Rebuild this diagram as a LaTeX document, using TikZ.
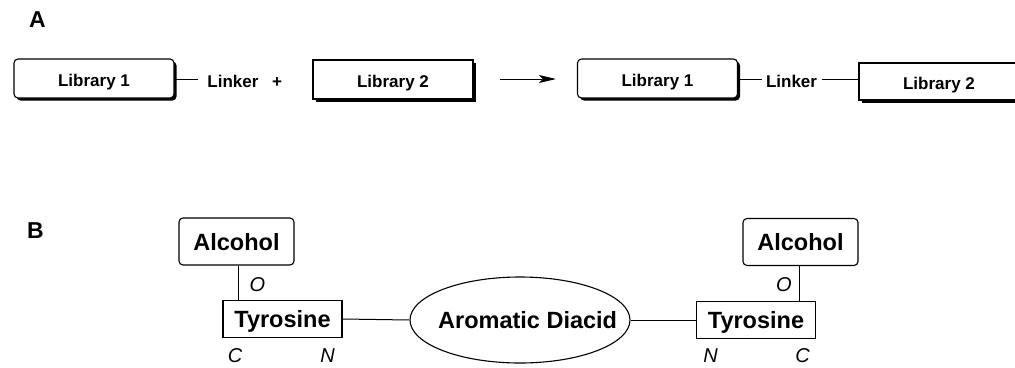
\documentclass[tikz,border=0pt]{standalone}
\usepackage{fontspec}
\setmainfont{Liberation Sans}
\usetikzlibrary{shapes.geometric,shadows,arrows.meta}
\begin{document}
\begin{tikzpicture}[x=1pt,y=-1pt,
  lib/.style={draw, line width=1.1pt, fill=white, minimum width=160pt, minimum height=39pt,
    inner sep=0pt, text height=16pt, text depth=0pt, font=\fontsize{17}{19}\selectfont\bfseries,
    drop shadow={shadow xshift=2.5pt, shadow yshift=-2.5pt, fill=black, opacity=1}},
  libr/.style={lib, rounded corners=4pt},
  atxt/.style={font=\fontsize{17}{19}\selectfont\bfseries, inner sep=0pt, anchor=base},
  btxt/.style={font=\fontsize{23.5}{26}\selectfont\bfseries, inner sep=0pt},
  alc/.style={draw, line width=1.1pt, rounded corners=4pt, minimum width=115pt, minimum height=47pt,
    inner sep=0pt, text height=17pt, text depth=0pt, font=\fontsize{23.5}{26}\selectfont\bfseries},
  tyr/.style={draw, line width=1.5pt, minimum width=119pt, minimum height=37pt,
    inner sep=0pt, text height=17pt, text depth=0pt, font=\fontsize{23.5}{26}\selectfont\bfseries},
  ell/.style={draw, line width=1.1pt, ellipse, minimum width=220pt, minimum height=86pt, inner sep=0pt},
  atom/.style={font=\fontsize{20}{22}\selectfont\itshape, inner sep=0pt},
  panel/.style={font=\fontsize{23}{25}\selectfont\bfseries, inner sep=0pt, anchor=base west},
  conn/.style={line width=1pt}
]
\useasboundingbox (0,0) rectangle (1015,367);
\clip (0,0) rectangle (1015,367);

% Panel A
\node[panel] (labA) at (29,27) {A};
\node[libr] (lib1) at (94,78.5) {Library 1};
\coordinate (l1end) at (198,79);
\draw[conn] (lib1.east |- l1end) -- (l1end);
\node[atxt] (link1) at (233,87.5) {Linker};
\node[atxt] (plus) at (277,87.5) {+};
\node[lib] (lib2) at (393,79.5) {Library 2};
\coordinate (arrS) at (500,79);
\coordinate (arrE) at (556,79);
\draw[conn, -{Stealth[length=17pt,width=8pt,inset=4pt]}] (arrS) -- (arrE);
\node[libr] (lib1r) at (657.5,78.5) {Library 1};
\coordinate (l2a) at (762,79);
\draw[conn] (lib1r.east |- l2a) -- (l2a);
\node[atxt] (link2) at (791.5,87.5) {Linker};
\coordinate (l2b) at (822,79);
\node[lib, minimum height=37pt] (lib2r) at (939,81.5) {Library 2};
\draw[conn] (l2b) -- (lib2r.west |- l2b);

% Panel B
\node[panel] (labB) at (27,238.5) {B};
\node[alc] (alcL) at (236.5,241.5) {Alcohol};
\node[tyr] (tyrL) at (282.5,319) {Tyrosine};
\node[ell] (dia) at (520,320) {};
\node[btxt, anchor=base west] (diat) at (438,328) {Aromatic Diacid};
\node[tyr] (tyrR) at (756,320) {Tyrosine};
\node[alc] (alcR) at (800.5,242) {Alcohol};

\draw[conn] ([xshift=1.5pt]alcL.south) -- ([xshift=1.5pt]alcL.south |- tyrL.north);
\draw[conn] ([xshift=-1.5pt]alcR.south) -- ([xshift=-1.5pt]alcR.south |- tyrR.north);
\draw[conn] (tyrL.east) -- (dia.west);
\draw[conn] (dia.east) -- (tyrR.west);

\node[atom] (oL) at (257.5,284.5) {O};
\node[atom] (oR) at (784,284.5) {O};
\node[atom] (cL) at (235,355.5) {C};
\node[atom] (nL) at (327.5,355.5) {N};
\node[atom] (nR) at (710.5,355.5) {N};
\node[atom] (cR) at (802.5,355.5) {C};
\end{tikzpicture}
\end{document}
